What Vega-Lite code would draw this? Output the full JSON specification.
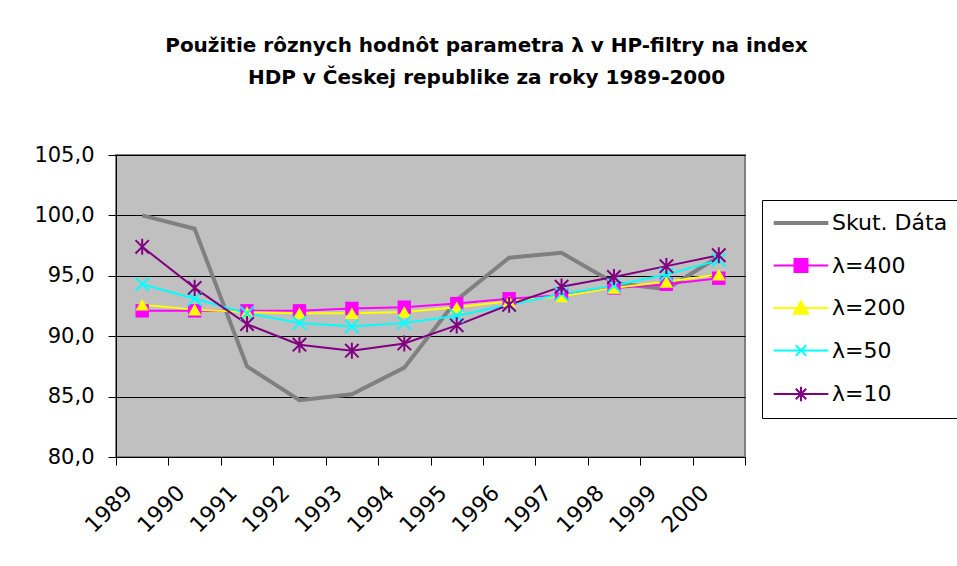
{
  "$schema": "https://vega.github.io/schema/vega-lite/v6.json",
  "autosize": "none",
  "width": 629,
  "height": 302,
  "padding": {"left": 116, "top": 155, "right": 212, "bottom": 109},
  "background": "white",
  "config": {
    "view": {"fill": "#C0C0C0", "stroke": "#808080", "strokeWidth": 2},
    "font": "DejaVu Sans"
  },
  "title": {
    "text": ["Použitie rôznych hodnôt parametra λ v HP-filtry na index", "HDP v Českej republike za roky 1989-2000"],
    "font": "DejaVu Sans",
    "fontSize": 20,
    "fontWeight": "bold",
    "color": "black",
    "anchor": "middle",
    "dx": 56,
    "offset": 56,
    "lineHeight": 32
  },
  "data": {
    "values": [
      {"year": "1989", "series": "Skut. Dáta", "value": 100.0},
      {"year": "1990", "series": "Skut. Dáta", "value": 98.9},
      {"year": "1991", "series": "Skut. Dáta", "value": 87.5},
      {"year": "1992", "series": "Skut. Dáta", "value": 84.7},
      {"year": "1993", "series": "Skut. Dáta", "value": 85.2},
      {"year": "1994", "series": "Skut. Dáta", "value": 87.4},
      {"year": "1995", "series": "Skut. Dáta", "value": 93.0},
      {"year": "1996", "series": "Skut. Dáta", "value": 96.5},
      {"year": "1997", "series": "Skut. Dáta", "value": 96.9},
      {"year": "1998", "series": "Skut. Dáta", "value": 94.4},
      {"year": "1999", "series": "Skut. Dáta", "value": 93.9},
      {"year": "2000", "series": "Skut. Dáta", "value": 96.6},
      {"year": "1989", "series": "λ=400", "value": 92.1},
      {"year": "1990", "series": "λ=400", "value": 92.1},
      {"year": "1991", "series": "λ=400", "value": 92.1},
      {"year": "1992", "series": "λ=400", "value": 92.1},
      {"year": "1993", "series": "λ=400", "value": 92.3},
      {"year": "1994", "series": "λ=400", "value": 92.4},
      {"year": "1995", "series": "λ=400", "value": 92.7},
      {"year": "1996", "series": "λ=400", "value": 93.1},
      {"year": "1997", "series": "λ=400", "value": 93.4},
      {"year": "1998", "series": "λ=400", "value": 94.0},
      {"year": "1999", "series": "λ=400", "value": 94.3},
      {"year": "2000", "series": "λ=400", "value": 94.8},
      {"year": "1989", "series": "λ=200", "value": 92.6},
      {"year": "1990", "series": "λ=200", "value": 92.2},
      {"year": "1991", "series": "λ=200", "value": 92.0},
      {"year": "1992", "series": "λ=200", "value": 91.9},
      {"year": "1993", "series": "λ=200", "value": 91.9},
      {"year": "1994", "series": "λ=200", "value": 92.0},
      {"year": "1995", "series": "λ=200", "value": 92.4},
      {"year": "1996", "series": "λ=200", "value": 92.9},
      {"year": "1997", "series": "λ=200", "value": 93.3},
      {"year": "1998", "series": "λ=200", "value": 94.0},
      {"year": "1999", "series": "λ=200", "value": 94.5},
      {"year": "2000", "series": "λ=200", "value": 95.1},
      {"year": "1989", "series": "λ=50", "value": 94.3},
      {"year": "1990", "series": "λ=50", "value": 93.1},
      {"year": "1991", "series": "λ=50", "value": 91.9},
      {"year": "1992", "series": "λ=50", "value": 91.1},
      {"year": "1993", "series": "λ=50", "value": 90.8},
      {"year": "1994", "series": "λ=50", "value": 91.1},
      {"year": "1995", "series": "λ=50", "value": 91.7},
      {"year": "1996", "series": "λ=50", "value": 92.6},
      {"year": "1997", "series": "λ=50", "value": 93.5},
      {"year": "1998", "series": "λ=50", "value": 94.2},
      {"year": "1999", "series": "λ=50", "value": 95.1},
      {"year": "2000", "series": "λ=50", "value": 96.3},
      {"year": "1989", "series": "λ=10", "value": 97.4},
      {"year": "1990", "series": "λ=10", "value": 94.0},
      {"year": "1991", "series": "λ=10", "value": 91.0},
      {"year": "1992", "series": "λ=10", "value": 89.3},
      {"year": "1993", "series": "λ=10", "value": 88.8},
      {"year": "1994", "series": "λ=10", "value": 89.4},
      {"year": "1995", "series": "λ=10", "value": 90.9},
      {"year": "1996", "series": "λ=10", "value": 92.6},
      {"year": "1997", "series": "λ=10", "value": 94.1},
      {"year": "1998", "series": "λ=10", "value": 94.9},
      {"year": "1999", "series": "λ=10", "value": 95.8},
      {"year": "2000", "series": "λ=10", "value": 96.7}
    ]
  },
  "encoding": {
    "x": {
      "field": "year",
      "type": "ordinal",
      "scale": {"type": "band", "paddingInner": 0, "paddingOuter": 0},
      "axis": {
        "title": null,
        "tickBand": "extent",
        "labelAngle": -45,
        "labelAlign": "right",
        "labelBaseline": "middle",
        "labelFont": "DejaVu Sans",
        "labelFontSize": 22,
        "labelColor": "black",
        "tickColor": "black",
        "tickSize": 8,
        "domainColor": "black",
        "labelPadding": 24,
        "labelOffset": -14
      }
    },
    "y": {
      "field": "value",
      "type": "quantitative",
      "scale": {"domain": [80, 105], "nice": false, "zero": false},
      "axis": {
        "title": null,
        "values": [80, 85, 90, 95, 100, 105],
        "labelExpr": "replace(format(datum.value,'.1f'),'.',',')",
        "grid": true,
        "gridColor": "#000000",
        "gridOpacity": 1,
        "labelFont": "DejaVu Sans",
        "labelFontSize": 21,
        "labelColor": "black",
        "tickColor": "black",
        "tickSize": 8,
        "domainColor": "black",
        "labelPadding": 14
      }
    }
  },
  "layer": [
    {
      "transform": [{"filter": {"field": "series", "equal": "Skut. Dáta"}}],
      "mark": {"type": "line", "strokeWidth": 4},
      "encoding": {
        "color": {
          "field": "series",
          "type": "nominal",
          "scale": {
            "domain": ["Skut. Dáta", "λ=400", "λ=200", "λ=50", "λ=10"],
            "range": ["#808080", "#FF00FF", "#FFFF00", "#00FFFF", "#800080"]
          },
          "legend": {
            "title": null,
            "orient": "none",
            "legendX": 646,
            "legendY": 45,
            "padding": 12,
            "strokeColor": "black",
            "fillColor": "white",
            "labelFont": "DejaVu Sans",
            "labelFontSize": 22,
            "labelColor": "black",
            "symbolSize": 169,
            "symbolOffset": 16,
            "labelOffset": 20,
            "rowPadding": 20.5,
            "symbolStrokeWidth": 2,
            "encode": {
              "symbols": {
                "update": {
                  "shape": {"signal": "datum.value==='Skut. Dáta' ? 'M-4.2,0H4.2' : datum.value==='λ=400' ? 'M-4.2,0H4.2M-1,-1H1V1H-1Z' : datum.value==='λ=200' ? 'M-4.2,0H4.2M0,-1L1.1,0.9H-1.1Z' : datum.value==='λ=50' ? 'M-4.2,0H4.2M-0.8,-0.8L0.8,0.8M-0.8,0.8L0.8,-0.8' : 'M-4.2,0H4.2M-0.8,-0.8L0.8,0.8M-0.8,0.8L0.8,-0.8M0,-1.1V1.1'"},
                  "fill": {"signal": "datum.value==='λ=400' ? '#FF00FF' : datum.value==='λ=200' ? '#FFFF00' : 'transparent'"},
                  "strokeWidth": {"signal": "datum.value==='Skut. Dáta' ? 4 : 2"},
                  "opacity": {"value": 1}
                }
              }
            }
          }
        }
      }
    },
    {
      "transform": [{"filter": {"field": "series", "oneOf": ["λ=400", "λ=200", "λ=50", "λ=10"]}}],
      "mark": {"type": "line", "strokeWidth": 2},
      "encoding": {
        "color": {"field": "series", "type": "nominal"}
      }
    },
    {
      "transform": [{"filter": {"field": "series", "oneOf": ["λ=400", "λ=200"]}}],
      "mark": {"type": "point", "filled": true, "opacity": 1, "size": 180},
      "encoding": {
        "color": {"field": "series", "type": "nominal"},
        "shape": {
          "field": "series",
          "type": "nominal",
          "scale": {
            "domain": ["λ=400", "λ=200", "λ=50", "λ=10"],
            "range": ["square", "triangle-up", "M-1,-1L1,1M-1,1L1,-1", "M-1,-1L1,1M-1,1L1,-1M0,-1.2L0,1.2"]
          },
          "legend": null
        }
      }
    },
    {
      "transform": [{"filter": {"field": "series", "oneOf": ["λ=50", "λ=10"]}}],
      "mark": {"type": "point", "filled": false, "opacity": 1, "size": 180, "strokeWidth": 2},
      "encoding": {
        "color": {"field": "series", "type": "nominal"},
        "shape": {"field": "series", "type": "nominal", "legend": null}
      }
    }
  ]
}
